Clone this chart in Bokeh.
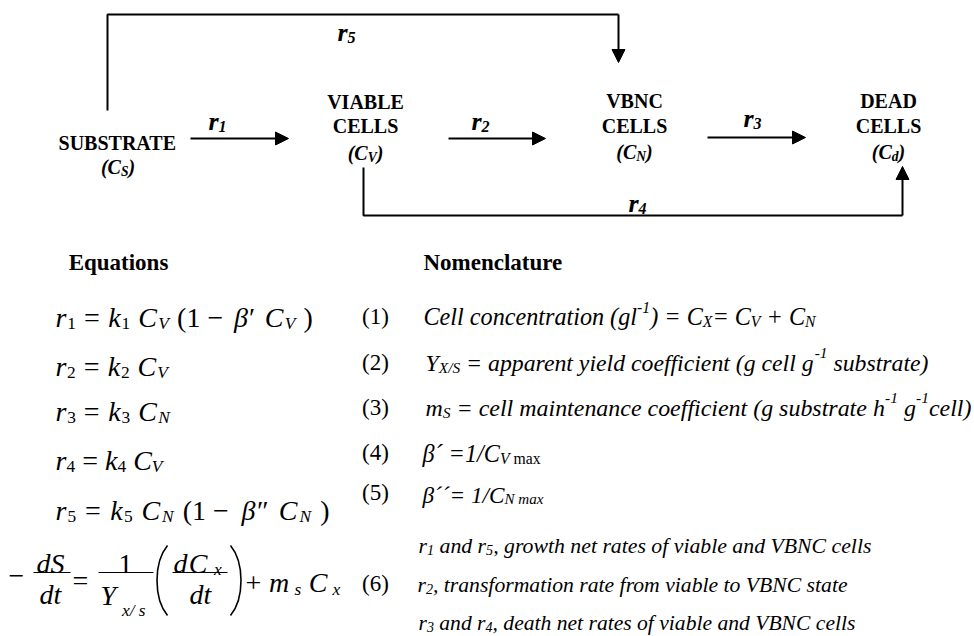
from bokeh.plotting import figure
from bokeh.models import Range1d, Arrow, NormalHead, ColumnDataSource
from bokeh.core.properties import value, field
from bokeh.embed import file_html
from bokeh.resources import INLINE

# ---------------- content (texts of the scheme) ----------------
node_titles = [["SUBSTRATE"], ["VIABLE", "CELLS"], ["VBNC", "CELLS"], ["DEAD", "CELLS"]]
node_symbols = ["S", "V", "N", "d"]
rate_ids = ["1", "2", "3", "4", "5"]
headers = ["Equations", "Nomenclature"]
eq_numbers = ["(1)", "(2)", "(3)", "(4)", "(5)", "(6)"]
eq_k = ["1", "2", "3", "4", "5"]
eq_conc = ["V", "V", "N", "V", "N"]
eq_beta = ["β′", "", "", "", "β″"]

N, B, P = "n", "b", "p"   # normal, subscript, superscript
nomenclature = [
    [("Cell concentration (gl", "i", N), ("-1", "i", P), (") = C", "i", N), ("X", "i", B),
     ("= C", "i", N), ("V", "i", B), (" + C", "i", N), ("N", "i", B)],
    [("Y", "i", N), ("X/S", "i", B), (" = apparent yield coefficient (g cell g", "i", N),
     ("-1", "i", P), (" substrate)", "i", N)],
    [("m", "i", N), ("S", "i", B), (" = cell maintenance coefficient (g substrate h", "i", N),
     ("-1", "i", P), (" g", "i", N), ("-1", "i", P), ("cell)", "i", N)],
    [("β´ =1/C", "i", N), ("V", "i", B), (" max", "r", B)],
    [("β´´= 1/C", "i", N), ("N max", "i", B)],
    [("r", "i", N), ("1", "i", B), (" and r", "i", N), ("5", "i", B),
     (", growth net rates of viable and VBNC cells", "i", N)],
    [("r", "i", N), ("2", "i", B), (", transformation rate from viable to VBNC state", "i", N)],
    [("r", "i", N), ("3", "i", B), (" and r", "i", N), ("4", "i", B),
     (", death net rates of viable and VBNC cells", "i", N)],
]

# ---------------- approximate Times metrics (em) ----------------
def mk(spec, extra=None):
    d = {" ": 0.25}
    for tok in spec.split():
        d[tok[0]] = int(tok[1:]) / 1000.0
    if extra:
        d.update(extra)
    return d

DIG = "0500 1500 2500 3500 4500 5500 6500 7500 8500 9500"
W = {
    "r": mk("A722 B667 C667 D722 E611 F556 G722 H722 I333 J389 K722 L611 M889 N722 O722 P556 Q722 "
            "R667 S556 T611 U722 V722 W944 X722 Y722 Z611 a444 b500 c444 d500 e444 f333 g500 h500 "
            "i278 j278 k500 l278 m778 n500 o500 p500 q500 r333 s389 t278 u500 v500 w722 x500 y500 "
            "z444 (333 )333 +564 ,250 -333 .250 /278 =564 " + DIG,
            {"−": 0.564, "′": 0.28, "″": 0.45, "´": 0.333, "β": 0.5}),
    "i": mk("A611 B611 C667 D722 E611 F611 G722 H722 I333 J444 K667 L556 M833 N667 O722 P611 Q722 "
            "R611 S500 T556 U722 V611 W833 X611 Y556 Z556 a500 b500 c444 d500 e444 f278 g500 h500 "
            "i278 j278 k444 l278 m722 n500 o500 p500 q500 r389 s389 t278 u500 v444 w667 x444 y444 "
            "z389 (333 )333 +675 ,250 -333 .250 /278 =675 " + DIG,
            {"−": 0.675, "′": 0.28, "″": 0.45, "´": 0.333, "β": 0.5}),
    "b": mk("A722 B667 C722 D722 E667 F611 G778 H778 I389 J500 K778 L667 M944 N722 O778 P611 Q778 "
            "R722 S556 T667 U722 V722 W1000 X722 Y722 Z667 a500 b556 c444 d556 e444 f333 g500 h556 "
            "i278 j333 k556 l278 m833 n556 o500 p556 q556 r444 s389 t333 u556 v500 w722 x500 y500 "
            "z444 (333 )333 " + DIG),
    "bi": mk("C667 S556 V667 N722 r389 d500 (333 )333 " + DIG),
}
STYLE = {"r": "normal", "i": "italic", "b": "bold", "bi": "bold italic"}

T = dict(x=[], y=[], text=[], size=[], style=[])


def emit(x, y, t, fs, st):
    T["x"].append(x)
    T["y"].append(y)
    T["text"].append(t)
    T["size"].append("%.2fpx" % fs)
    T["style"].append(STYLE[st])


def seg_w(t, st, fs):
    return sum(W[st].get(c, 0.5) for c in t) * fs


def place(segs, x, base, size, target=None, anchor="left", ss=0.62, sub_dy=0.22, sup_dy=0.38,
          fit="space"):
    def measure(sz):
        out = []
        for t, st, role in segs:
            fs = sz if role == N else sz * ss
            out.append((t, st, role, fs, seg_w(t, st, fs)))
        return out
    info = measure(size)
    total = sum(i[4] for i in info)
    f = 1.0
    if target and fit == "size":
        size = size * target / total
        info = measure(size)
        total = target
    elif target:
        f = target / total
    cx = x - total * f / 2 if anchor == "center" else x
    for t, st, role, fs, w in info:
        lead = len(t) - len(t.lstrip(" "))
        body = t.strip(" ")
        if body:
            dy = sub_dy * size if role == B else (-sup_dy * size if role == P else 0.0)
            emit(cx + lead * W[st][" "] * fs * f, base + dy, body, fs, st)
        cx += w * f


# ---------------- figure ----------------
p = figure(width=974, height=636, x_range=Range1d(0, 974), y_range=Range1d(636, 0),
           output_backend="svg", toolbar_location=None, min_border=0,
           x_axis_type=None, y_axis_type=None)
p.grid.visible = False
p.outline_line_color = None
p.background_fill_color = "white"
p.border_fill_color = "white"

INK = "black"

# --- scheme: nodes
node_cx = [117.5, 365, 634, 888]
node_title_base = [[142], [101, 125], [100, 125], [100, 125]]
node_sym_base = [166, 152, 151, 151]
for cx, titles, bases, sym, sb in zip(node_cx, node_titles, node_title_base, node_symbols, node_sym_base):
    for t, b in zip(titles, bases):
        place([(t, "b", N)], cx, b, 20, anchor="center")
    place([("(C", "bi", N), (sym, "bi", B), (")", "bi", N)], cx, sb, 20, anchor="center",
          ss=0.68, sub_dy=0.25)

# --- scheme: rate labels
rate_pos = [(217, 121), (480, 121), (752, 118), (637, 203), (346, 32)]
for rid, (rx, ry) in zip(rate_ids, rate_pos):
    place([("r", "bi", N), (rid, "bi", B)], rx, ry, 26, anchor="center", ss=0.62, sub_dy=0.2)

# --- scheme: connectors
paths_x = [[107, 107, 618], [363, 363, 902]]
paths_y = [[110, 14, 14], [167, 215, 215]]
p.multi_line(xs=paths_x, ys=paths_y, line_color=INK, line_width=2)
arrows = [((190, 138), (288, 138)), ((448, 138), (545, 138)), ((707, 137), (805, 137)),
          ((618, 14), (618, 62)), ((902, 215), (902, 166))]
for (xa, ya), (xb, yb) in arrows:
    p.add_layout(Arrow(end=NormalHead(size=13, fill_color=INK, line_color=INK, line_width=1),
                       x_start=xa, y_start=ya, x_end=xb, y_end=yb,
                       line_color=INK, line_width=2))

# --- headers
place([(headers[0], "b", N)], 118, 262, 23, anchor="center")
place([(headers[1], "b", N)], 423, 262, 23)

# --- rate equations
eq_base = [317, 366, 411, 460, 510]
eq_end = [313, 168, 170, 162, 330]
for k, c, beta, b, xe in zip(eq_k, eq_conc, eq_beta, eq_base, eq_end):
    segs = [("r", "i", N), (k, "r", B), (" = ", "r", N), ("k", "i", N), (k, "r", B),
            (" C", "i", N), (c, "i", B)]
    if beta:
        segs += [(" (1 − ", "r", N), (beta[0], "i", N), (beta[1], "r", N), (" C", "i", N),
                 (c, "i", B), (" )", "r", N)]
    place(segs, 55, b, 28, target=xe - 55, ss=0.62, sub_dy=0.22)

# --- substrate balance (6)
S = 28
place([("−", "r", N)], 16, 575, S, anchor="center")
place([("dS", "i", N)], 50, 563, S, anchor="center")
place([("dt", "i", N)], 50, 594, S, anchor="center")
place([("=", "r", N)], 80, 580, S, anchor="center")
place([("1", "r", N)], 125, 563, S, anchor="center")
place([("Y", "i", N), (" x/ s", "i", B)], 100, 595, S, target=47, ss=0.62, sub_dy=0.54)
place([("d", "i", N), ("C", "i", N), (" x", "i", B)], 173, 563, S, target=49, ss=0.62, sub_dy=0.2)
place([("dt", "i", N)], 200, 594, S, anchor="center")
place([("+", "r", N), (" m", "i", N), (" s", "i", B), (" C", "i", N), (" x", "i", B)], 245, 582, S,
      target=95, ss=0.62, sub_dy=0.25)
bar_x0 = [33, 98, 172]
bar_x1 = [70, 153, 227]
p.segment(x0=bar_x0, y0=[572] * 3, x1=bar_x1, y1=[572] * 3, line_color=INK, line_width=1.2)
p.bezier(x0=[167, 230], y0=[545, 545], x1=[167, 230], y1=[615, 615],
         cx0=[153, 244], cy0=[562, 562], cx1=[153, 244], cy1=[598, 598],
         line_color=INK, line_width=1.6)

# --- equation numbers
num_base = [316, 362, 407, 452, 492, 583]
for t, b in zip(eq_numbers, num_base):
    place([(t, "r", N)], 375, b, 23, anchor="center")

# --- nomenclature rows
nom_x = [423, 425, 425, 422, 422, 418, 417, 418]
nom_end = [815, 928, 971, 540, 543, 872, 848, 855]
nom_base = [316, 362, 407, 453, 494, 545, 584, 622]
for segs, x0, xe, b in zip(nomenclature, nom_x, nom_end, nom_base):
    place(segs, x0, b, 22, target=xe - x0, ss=0.65, sub_dy=0.2, sup_dy=0.38, fit="size")

p.text(x="x", y="y", text="text", source=ColumnDataSource(T),
       text_font=value("Liberation Serif"), text_font_size=field("size"),
       text_font_style=field("style"), text_color=INK,
       text_align="left", text_baseline="alphabetic")

open("out.html", "w").write(file_html(p, INLINE, title="Kinetic scheme"))
